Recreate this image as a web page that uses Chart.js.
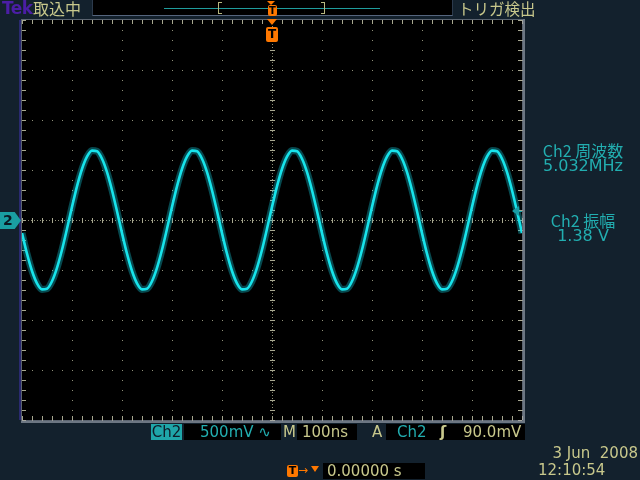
<!DOCTYPE html>
<html>
<head>
<meta charset="utf-8">
<script src="https://cdn.jsdelivr.net/npm/chart.js@4"></script>
<style>
  html,body{margin:0;padding:0;}
  body{width:640px;height:480px;overflow:hidden;position:relative;background:#13212d;font-family:"DejaVu Sans",sans-serif;}
  canvas{position:absolute;left:0;top:0;}
  .t{position:absolute;white-space:pre;font-size:15px;line-height:16px;}
  .k{color:#c8c88c;}
  .c{color:#22aeb0;}
  .jp{font-family:"Noto Sans CJK JP","DejaVu Sans",sans-serif;}
  .box{position:absolute;background:#000;}
  .tb{position:absolute;background:#ff7800;color:#000;font:bold 11px "DejaVu Sans",sans-serif;text-align:center;border-radius:2px;}
  .tri{position:absolute;width:0;height:0;border-left:5px solid transparent;border-right:5px solid transparent;border-top:6px solid #ff7800;}
</style>
</head>
<body>
<canvas id="c" width="640" height="480"></canvas>

<!-- top status bar -->
<div class="t" style="left:2px;top:-1px;font-weight:bold;font-size:17px;line-height:18px;color:#4b1ea5;letter-spacing:-0.5px">Tek</div>
<div class="t k jp" style="left:33px;top:-1px;font-size:16px;line-height:18px">取込中</div>
<div class="box" style="left:92px;top:0px;width:359px;height:15px;border-bottom:1px solid #56667e;border-left:1px solid #2c3a4c;border-right:1px solid #2c3a4c"></div>
<div style="position:absolute;left:164px;top:8px;width:216px;height:1px;background:#1f9c9c"></div>
<div style="position:absolute;left:218px;top:2px;height:12px;border:1px solid #b8b880;border-right:none;box-sizing:border-box;width:4px"></div>
<div style="position:absolute;left:321px;top:2px;height:12px;border:1px solid #b8b880;border-left:none;box-sizing:border-box;width:4px"></div>
<div class="tri" style="left:267px;top:1px;border-left-width:4px;border-right-width:4px;border-top-width:4px"></div>
<div class="tb" style="left:268px;top:5px;width:9px;height:11px;line-height:11px;font-size:10px">T</div>
<div class="t k jp" style="left:458px;top:-1px;font-size:15.5px;line-height:18px">トリガ検出</div>

<!-- trigger position marker below bar -->
<div class="tri" style="left:267px;top:19px"></div>
<div class="tb" style="left:266px;top:27px;width:12px;height:15px;line-height:15px;font-size:12px">T</div>

<!-- ch2 ground marker -->
<div style="position:absolute;left:0px;top:212px;width:21px;height:17px;background:#1a9ea2;clip-path:polygon(0 0,70% 0,100% 50%,70% 100%,0 100%)"></div>
<div class="t" style="left:3px;top:212px;font-weight:bold;font-size:14px;line-height:17px;color:#0b1822">2</div>

<!-- measurements -->
<div class="t c jp" style="left:523px;top:140px;width:120px;text-align:center;font-size:16px;line-height:20px">Ch2 周波数</div>
<div class="t c" style="left:523px;top:157px;width:120px;text-align:center;font-size:16px;line-height:18px">5.032MHz</div>
<div class="t c jp" style="left:523px;top:210px;width:120px;text-align:center;font-size:16px;line-height:20px">Ch2 振幅</div>
<div class="t c" style="left:523px;top:227px;width:120px;text-align:center;font-size:16px;line-height:18px">1.38 V</div>

<!-- bottom readouts -->
<div class="t" style="left:151px;top:424px;width:31px;height:16px;background:#1fa6a9;color:#0f1c28;text-align:center">Ch2</div>
<div class="box" style="left:184px;top:424px;width:97px;height:16px"></div>
<div class="t c" style="left:200px;top:424px">500mV ∿</div>
<div class="t k" style="left:283px;top:424px">M</div>
<div class="box" style="left:297px;top:424px;width:60px;height:16px"></div>
<div class="t k" style="left:302px;top:424px">100ns</div>
<div class="t k" style="left:372px;top:424px">A</div>
<div class="box" style="left:386px;top:424px;width:139px;height:16px"></div>
<div class="t c" style="left:397px;top:424px">Ch2</div>
<div class="t k" style="left:440px;top:424px;font-weight:bold">ʃ</div>
<div class="t k" style="left:463px;top:424px">90.0mV</div>

<div class="tb" style="left:287px;top:465px;width:11px;height:12px;line-height:12px">T</div>
<div class="t" style="left:298px;top:462px;color:#ff7800;font-size:12px">→</div>
<div class="tri" style="left:311px;top:466px;border-left-width:4px;border-right-width:4px"></div>
<div class="box" style="left:323px;top:463px;width:102px;height:16px"></div>
<div class="t k" style="left:327px;top:463px">0.00000 s</div>

<div class="t k" style="left:520px;top:445px;width:118px;text-align:right">3 Jun  2008</div>
<div class="t k" style="left:538px;top:462px">12:10:54</div>

<script>
const timeNs = [
  -500,-490,-480,-470,-460,-450,-440,-430,-420,-410,-400,-390,-380,-370,-360,-350,-340,-330,-320,-310,
  -300,-290,-280,-270,-260,-250,-240,-230,-220,-210,-200,-190,-180,-170,-160,-150,-140,-130,-120,-110,
  -100,-90,-80,-70,-60,-50,-40,-30,-20,-10,0,10,20,30,40,50,60,70,80,90,
  100,110,120,130,140,150,160,170,180,190,200,210,220,230,240,250,260,270,280,290,
  300,310,320,330,340,350,360,370,380,390,400,410,420,430,440,450,460,470,480,490,500
];
const ch2Volts = [
  -0.131,-0.337,-0.510,-0.633,-0.694,-0.688,-0.613,-0.479,-0.298,-0.088, 0.131, 0.337, 0.510, 0.633, 0.694, 0.688, 0.613, 0.479, 0.298, 0.088,
  -0.131,-0.337,-0.510,-0.633,-0.694,-0.688,-0.613,-0.479,-0.298,-0.088, 0.131, 0.337, 0.510, 0.633, 0.694, 0.688, 0.613, 0.479, 0.298, 0.088,
  -0.131,-0.337,-0.510,-0.633,-0.694,-0.688,-0.613,-0.479,-0.298,-0.088, 0.131, 0.337, 0.510, 0.633, 0.694, 0.688, 0.613, 0.479, 0.298, 0.088,
  -0.131,-0.337,-0.510,-0.633,-0.694,-0.688,-0.613,-0.479,-0.298,-0.088, 0.131, 0.337, 0.510, 0.633, 0.694, 0.688, 0.613, 0.479, 0.298, 0.088,
  -0.131,-0.337,-0.510,-0.633,-0.694,-0.688,-0.613,-0.479,-0.298,-0.088, 0.131, 0.337, 0.510, 0.633, 0.694, 0.688, 0.613, 0.479, 0.298, 0.088,
  -0.131
];
const timeRange = [-500, 500];      // ns (100 ns/div, 10 div)
const voltRange = [-2, 2];          // V  (500 mV/div, 8 div)
const timeStep = 100;
const voltStep = 0.5;
const triggerLevel = 0.09;          // V

const points = timeNs.map((t, i) => ({x: t, y: ch2Volts[i]}));

const scopeDecor = {
  id: 'scopeDecor',
  beforeDraw(chart) {
    const {ctx, chartArea: a} = chart;
    ctx.save();
    ctx.fillStyle = '#000';
    ctx.fillRect(a.left, a.top, a.right - a.left, a.bottom - a.top);
    ctx.restore();
  },
  beforeDatasetsDraw(chart) {
    const {ctx, chartArea: a, scales: {x, y}} = chart;
    ctx.save();
    const cx = Math.round(x.getPixelForValue(0)) + 0.5;
    const cy = Math.round(y.getPixelForValue(0)) + 0.5;
    ctx.strokeStyle = '#8f8f78';
    ctx.lineWidth = 1;
    ctx.setLineDash([1, 2]);
    ctx.beginPath();
    ctx.moveTo(cx, a.top); ctx.lineTo(cx, a.bottom);
    ctx.moveTo(a.left, cy); ctx.lineTo(a.right, cy);
    ctx.stroke();
    ctx.setLineDash([]);
    const minorX = (timeRange[1] - timeRange[0]) / 50;
    const minorY = (voltRange[1] - voltRange[0]) / 40;
    ctx.fillStyle = '#a8a890';
    for (let v = timeRange[0]; v <= timeRange[1] + 1e-9; v += minorX) {
      const px = Math.round(x.getPixelForValue(v));
      ctx.fillRect(px, cy - 2.5, 1, 5);
      ctx.fillRect(px, a.top, 1, 4);
      ctx.fillRect(px, a.bottom - 4, 1, 4);
    }
    for (let v = voltRange[0]; v <= voltRange[1] + 1e-9; v += minorY) {
      const py = Math.round(y.getPixelForValue(v));
      ctx.fillRect(cx - 2.5, py, 5, 1);
      ctx.fillRect(a.left, py, 4, 1);
      ctx.fillRect(a.right - 4, py, 4, 1);
    }
    ctx.strokeStyle = '#a4a8b4';
    ctx.setLineDash([1, 1]);
    ctx.strokeRect(Math.round(a.left) - 0.5, Math.round(a.top) - 0.5, a.right - a.left + 1, a.bottom - a.top + 1);
    ctx.setLineDash([]);
    ctx.fillStyle = '#6c7682';
    ctx.fillRect(Math.round(a.right) + 1, a.top - 1, 2, a.bottom - a.top + 4);
    ctx.fillRect(a.left - 1, Math.round(a.bottom) + 1, a.right - a.left + 4, 2);
    ctx.fillStyle = '#2a2a70';
    ctx.fillRect(Math.round(a.left) - 3, a.top, 2, a.bottom - a.top);
    ctx.restore();
  },
  afterDatasetsDraw(chart) {
    const {ctx, chartArea: a, scales: {y}} = chart;
    const ty = y.getPixelForValue(triggerLevel);
    ctx.save();
    ctx.fillStyle = '#1a9ea6';
    ctx.beginPath();
    ctx.moveTo(a.right - 10, ty);
    ctx.lineTo(a.right - 3, ty - 5);
    ctx.lineTo(a.right - 3, ty + 5);
    ctx.closePath();
    ctx.fill();
    ctx.fillRect(a.right - 4, Math.round(ty), 4, 1);
    ctx.restore();
  }
};

new Chart(document.getElementById('c'), {
  type: 'line',
  data: {
    datasets: [
      {
        data: points,
        borderColor: 'rgba(20,210,225,0.35)',
        borderWidth: 7,
        pointRadius: 0,
        cubicInterpolationMode: 'monotone',
        fill: false
      },
      {
        data: points,
        borderColor: '#1aeef0',
        borderWidth: 2.6,
        pointRadius: 0,
        cubicInterpolationMode: 'monotone',
        fill: false
      }
    ]
  },
  options: {
    responsive: false,
    devicePixelRatio: 1,
    animation: false,
    events: [],
    layout: {padding: {left: 22, top: 20, right: 118, bottom: 60}},
    plugins: {legend: {display: false}, tooltip: {enabled: false}},
    scales: {
      x: {
        type: 'linear',
        min: timeRange[0], max: timeRange[1],
        afterFit: s => { s.height = 0; },
        ticks: {display: false, stepSize: timeStep},
        grid: {color: '#8f8f78', drawTicks: false, lineWidth: 1},
        border: {display: false, dash: [1, 9]}
      },
      y: {
        type: 'linear',
        min: voltRange[0], max: voltRange[1],
        afterFit: s => { s.width = 0; },
        ticks: {display: false, stepSize: voltStep},
        grid: {color: '#8f8f78', drawTicks: false, lineWidth: 1},
        border: {display: false, dash: [1, 9]}
      }
    }
  },
  plugins: [scopeDecor]
});
</script>
</body>
</html>
